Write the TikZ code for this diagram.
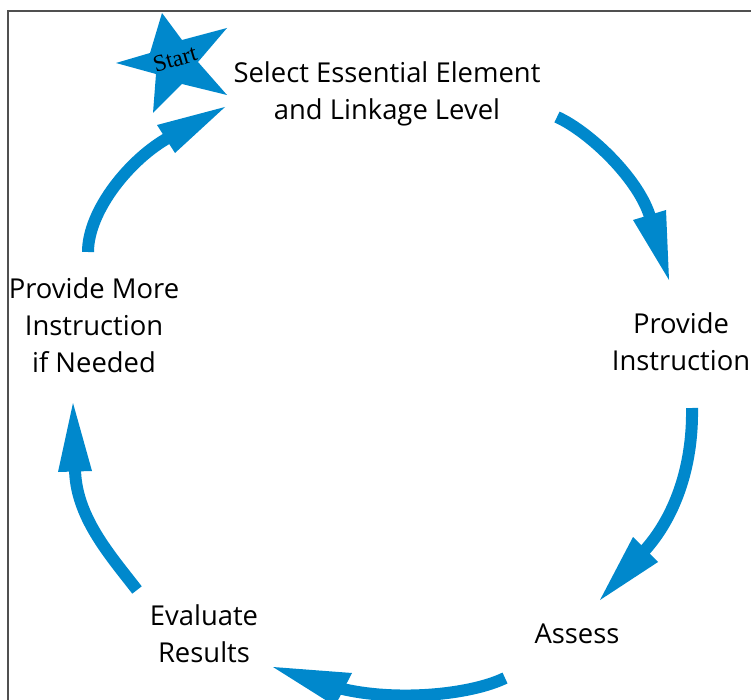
\documentclass[tikz,border=0pt]{standalone}
\usepackage{fontspec}
\setmainfont{Open Sans}
\newfontfamily\startfont{Liberation Serif}
\definecolor{cycleblue}{RGB}{0,136,204}
\definecolor{framegray}{RGB}{80,80,80}
\begin{document}
\begin{tikzpicture}[x=1pt,y=-1pt,
  steplabel/.style={font=\fontsize{27.4}{37}\selectfont, align=center, inner sep=0pt, anchor=base, text=black},
  shaft/.style={draw=cycleblue, line width=12pt},
  head/.style={fill=cycleblue},
  framelines/.style={draw=framegray, line width=1.4pt}]
\useasboundingbox (0,0) rectangle (751,700);

% frame
\coordinate (fbl) at (8,702);
\coordinate (ftl) at (8,11);
\coordinate (ftr) at (753,11);
\draw[framelines] (fbl) -- (ftl) -- (ftr);

% star
\fill[cycleblue] (162,13) -- (182,40) -- (227,28) -- (198,62) -- (227,95)
  -- (182,84) -- (153,113) -- (156,74) -- (116,63) -- (150,53) -- cycle;
\node[font=\startfont\fontsize{23.5}{26}\selectfont, rotate=16.5, inner sep=0pt] (start) at (175,59) {Start};

% labels (anchor base = baseline of the last line)
\node[steplabel] (select) at (387,120) {Select Essential Element\\and Linkage Level};
\node[steplabel] (instr) at (681,370) {Provide\\Instruction};
\node[steplabel] (assess) at (577,643) {Assess};
\node[steplabel] (eval) at (204,662) {Evaluate\\Results};
\node[steplabel] (more) at (94,372) {Provide More\\Instruction\\if Needed};

% arrow 1: select -> instruction
\coordinate (a1s) at (557,117);
\coordinate (a1e) at (650.6,218.8);
\coordinate (a1l) at (633,220);
\coordinate (a1r) at (666,210);
\coordinate (a1t) at (669,280);
\draw[shaft] (a1s) .. controls (590,132) and (640,180) .. (a1e);
\fill[head] (a1l) -- (a1t) -- (a1r) -- cycle;

% arrow 2: instruction -> assess
\coordinate (a2s) at (692,408);
\coordinate (a2e) at (642.8,552.5);
\coordinate (a2l) at (633,537);
\coordinate (a2r) at (658,562);
\coordinate (a2t) at (600,600);
\draw[shaft] (a2s) .. controls (693,468) and (674,519) .. (a2e);
\fill[head] (a2l) -- (a2t) -- (a2r) -- cycle;

% arrow 3: assess -> evaluate
\coordinate (a3s) at (505,678);
\coordinate (a3e) at (339.7,688.3);
\coordinate (a3l) at (352,673);
\coordinate (a3r) at (335,706);
\coordinate (a3t) at (273,667);
\draw[shaft] (a3s) .. controls (470,695) and (395,702) .. (a3e);
\fill[head] (a3l) -- (a3t) -- (a3r) -- cycle;

% arrow 4: evaluate -> provide more
\coordinate (a4s) at (137,590);
\coordinate (a4e) at (75,467.5);
\coordinate (a4l) at (58,472);
\coordinate (a4r) at (92,471);
\coordinate (a4t) at (73,403);
\draw[shaft] (a4s) .. controls (110,555) and (75,516) .. (a4e);
\fill[head] (a4l) -- (a4t) -- (a4r) -- cycle;

% arrow 5: provide more -> select
\coordinate (a5s) at (88,252);
\coordinate (a5e) at (169.5,137.1);
\coordinate (a5l) at (157,125);
\coordinate (a5r) at (175,153);
\coordinate (a5t) at (225,107);
\draw[shaft] (a5s) .. controls (88,210) and (131,158) .. (a5e);
\fill[head] (a5l) -- (a5t) -- (a5r) -- cycle;
\end{tikzpicture}
\end{document}
